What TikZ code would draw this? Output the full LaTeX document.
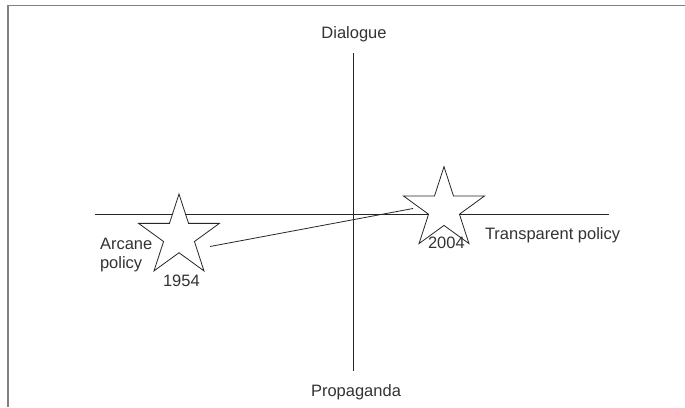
\documentclass[tikz,border=0pt]{standalone}
\usepackage{fontspec}
\setmainfont{Liberation Sans}
\usetikzlibrary{shapes.geometric}
\begin{document}
\begin{tikzpicture}[x=1pt,y=-1pt,
  lbl/.style={inner sep=0pt, outer sep=0pt, font=\fontsize{16.5}{19}\selectfont, text=black!80},
  axis/.style={line width=0.8pt, draw=black!85},
  pstar/.style={star, star points=5, star point ratio=2.618, minimum size=85pt,
    inner sep=0pt, outer sep=0pt, draw=black!85, fill=white, line width=0.8pt},
  frame/.style={draw=black!50, line width=1.6pt}]
\useasboundingbox (0,0) rectangle (685,407);
% frame
\coordinate (f1) at (8,407);
\coordinate (f2) at (8,5.5);
\coordinate (f3) at (685,5.5);
\draw[frame] (f1) -- (f2) -- (f3);
% axes
\coordinate (hl) at (95,214);
\coordinate (hr) at (608.5,214);
\coordinate (vt) at (353,53);
\coordinate (vb) at (353,371);
\draw[axis] (hl) -- (hr);
\draw[axis] (vt) -- (vb);
% stars
\node[pstar] (s1) at (179,236.5) {};
\node[pstar] (s2) at (444,209.2) {};
% connector
\coordinate (c1) at (210,246.5);
\coordinate (c2) at (413,208.5);
\draw[axis] (c1) -- (c2);
% labels
\node[lbl, anchor=base] (dia) at (354,38.5) {Dialogue};
\node[lbl, anchor=base] (pro) at (356,396) {Propaganda};
\node[lbl, anchor=base west] (tra) at (485,239.5) {Transparent policy};
\node[lbl, anchor=base west] (arc) at (100,249) {Arcane};
\node[lbl, anchor=base west] (pol) at (100,268) {policy};
\node[lbl, anchor=base west] (y1) at (163,286.5) {1954};
\node[lbl, anchor=base west] (y2) at (428,248) {2004};
\end{tikzpicture}
\end{document}
